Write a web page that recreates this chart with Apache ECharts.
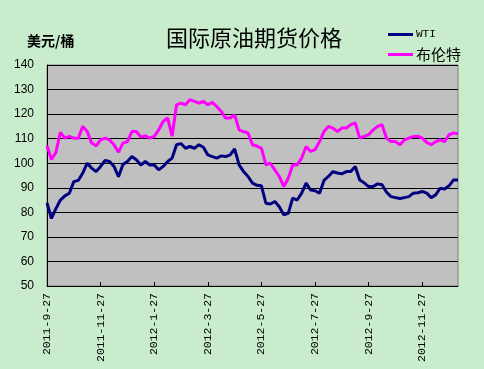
<!DOCTYPE html>
<html>
<head>
<meta charset="utf-8">
<script src="https://cdn.jsdelivr.net/npm/echarts@6/dist/echarts.min.js"></script>
<style>html,body{margin:0;padding:0;background:#C8ECCC;}#c{width:484px;height:369px;}</style>
</head>
<body>
<div id="c"></div>
<script>
const tickLabels = ['2011-9-27','2011-11-27','2012-1-27','2012-3-27','2012-5-27','2012-7-27','2012-9-27','2012-11-27'];
const seriesNames = ['WTI', '布伦特'];
const wti = [83.8, 77.5, 81.5, 85, 86.7, 87.8, 92.5, 93, 96, 100, 98, 96.6,
  98.7, 101.1, 100.7, 98.7, 94.5, 99.5, 100.7, 102.7, 101.4, 99.3, 100.7, 99.3,
  99.3, 97.3, 98.7, 100.7, 102.1, 107.5, 108, 106.1, 106.8, 106.1, 107.5, 106.5,
  103.4, 102.7, 102.1, 103, 102.7, 103.4, 105.8, 99.3, 96.6, 94.6, 91.9, 91,
  90.8, 83.7, 83.4, 84.4, 82.3, 79, 79.6, 85.8, 85, 87.8, 91.9, 89.1,
  88.8, 87.8, 93, 94.6, 96.6, 96, 95.7, 96.6, 96.6, 98.7, 93.2, 92,
  90.5, 90.5, 91.6, 91.2, 88.2, 86.4, 86, 85.6, 86, 86.4, 87.8, 88,
  88.5, 87.8, 86, 87.1, 89.8, 89.5, 90.8, 93.2, 93.2];
const brent = [107.1, 101.5, 104.5, 112.6, 110.2, 110.9, 110.2, 110.2, 115, 112.9, 108.2, 107.1,
  109.5, 110.2, 109.5, 107.5, 104.5, 108.2, 108.8, 112.9, 112.9, 110.6, 111.2, 110.2,
  110.9, 113.6, 117, 118.5, 111, 123.8, 124.5, 123.8, 125.9, 125.2, 124.5, 125.2,
  123.8, 124.8, 123.1, 121.1, 118.4, 118.4, 119.7, 113.6, 112.9, 112.3, 107.5, 107,
  106.1, 99.3, 100, 97.3, 94.6, 90.5, 93.9, 99.3, 99.3, 102.1, 106.8, 104.8,
  105.5, 108.8, 112.9, 115, 114.3, 112.9, 114.3, 114.3, 115.7, 116.4, 110.2, 110.9,
  111.6, 113.6, 115, 115.7, 110.2, 108.8, 108.8, 107.5, 109.5, 110.2, 110.9, 111,
  110.2, 108.5, 107.5, 108.8, 109.5, 108.8, 111.6, 112.3, 112];

function parseD(s){const p=s.split('-').map(Number);return Date.UTC(p[0],p[1]-1,p[2]);}
function fmtD(t){const d=new Date(t);return d.getUTCFullYear()+'-'+(d.getUTCMonth()+1)+'-'+d.getUTCDate();}
const DAY = 86400000;
const categories = [];
for (let k = 0; k < tickLabels.length; k++) {
  const s = parseD(tickLabels[k]);
  if (k < tickLabels.length - 1) {
    const e = parseD(tickLabels[k+1]);
    for (let j = 0; j < 12; j++) categories.push(fmtD(s + Math.round(j*(e-s)/12/DAY)*DAY));
  } else {
    for (let j = 0; categories.length < wti.length; j++) categories.push(fmtD(s + j*5*DAY));
  }
}

const chart = echarts.init(document.getElementById('c'), null, {renderer:'canvas'});
chart.setOption({
  backgroundColor: '#C8ECCC',
  animation: false,
  graphic: [
    {type:'text', left: 166, top: 27, style:{text:'国际原油期货价格', font:'normal 22px "Noto Sans CJK SC"', fill:'#000'}},
    {type:'text', left: 27, top: 34, style:{text:'美元/桶', font:'bold 14px "Noto Sans CJK SC"', fill:'#000'}}
  ],
  legend: [
    {data:[{name:seriesNames[0]}], left: 383, top: 24, icon:'rect', itemWidth:25, itemHeight:3, itemGap:0,
     textStyle:{fontSize:11, color:'#000', fontFamily:'Liberation Mono', padding:[0,0,0,-2]}},
    {data:[{name:seriesNames[1]}], left: 383, top: 42, icon:'rect', itemWidth:25, itemHeight:3, itemGap:0,
     textStyle:{fontSize:15, color:'#000', fontFamily:'Noto Sans CJK SC', padding:[0,0,0,-2]}}
  ],
  grid: {left: 47, right: 26, top: 65, bottom: 83, show: true, backgroundColor:'#C0C0C0', borderColor:'#808080', borderWidth:1, containLabel:false},
  xAxis: {
    type: 'category', data: categories, boundaryGap: false,
    axisLine: {show:true, lineStyle:{color:'#000', width:1}},
    axisTick: {show:true, inside:true, length:4, interval:11, lineStyle:{color:'#000'}},
    axisLabel: {interval:11, rotate:90, margin:7, fontSize:11.5, fontFamily:'Liberation Mono', color:'#000'},
    splitLine: {show:false}
  },
  yAxis: {
    type: 'value', min: 50, max: 140, interval: 10,
    axisLine: {show:true, lineStyle:{color:'#000', width:1}},
    axisTick: {show:false},
    axisLabel: {margin:13, fontSize:12, fontFamily:'Liberation Sans', color:'#000'},
    splitLine: {show:true, lineStyle:{color:'#000', width:1}}
  },
  series: [
    {name: seriesNames[0], type:'line', data: wti, showSymbol:false, symbol:'none', lineStyle:{width:3, color:'#000080'}, itemStyle:{color:'#000080'}},
    {name: seriesNames[1], type:'line', data: brent, showSymbol:false, symbol:'none', lineStyle:{width:3, color:'#FF00FF'}, itemStyle:{color:'#FF00FF'}}
  ]
});
</script>
</body>
</html>
